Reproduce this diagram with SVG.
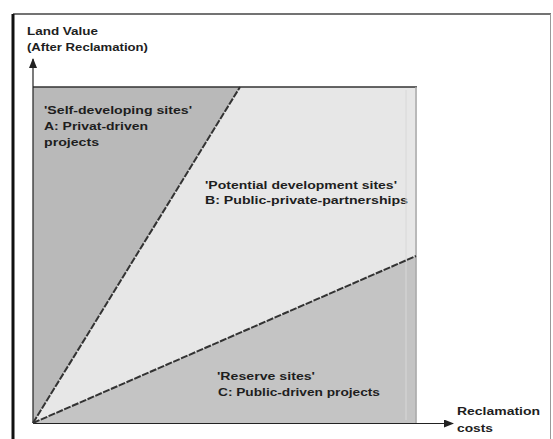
<svg xmlns="http://www.w3.org/2000/svg" width="553" height="439" viewBox="0 0 553 439">
<style>
text{font-family:"Liberation Sans",Arial,sans-serif;font-weight:bold;font-size:11px;fill:#1e1e1e}
.div{stroke:#333;stroke-width:2;fill:none;stroke-dasharray:7 1.5}
.axis{stroke:#222;stroke-width:1.2;fill:none}
</style>
<defs>
<marker id="arr" markerWidth="10" markerHeight="8" refX="9" refY="4" orient="auto" markerUnits="userSpaceOnUse">
<path d="M0,0 L10,4 L0,8 Z" fill="#222"/>
</marker>
</defs>
<rect width="553" height="439" fill="#fff"/>
<g id="frame">
<line x1="13" y1="14" x2="551" y2="14" stroke="#444" stroke-width="1.5"/>
<line x1="13" y1="14" x2="13" y2="439" stroke="#111" stroke-width="3"/>
<line x1="550.5" y1="14" x2="550.5" y2="439" stroke="#999" stroke-width="1"/>
</g>
<g id="region-B">
<rect x="33" y="87" width="384" height="336" fill="#e7e7e7"/>
<text x="205" y="189" textLength="192" lengthAdjust="spacingAndGlyphs">'Potential development sites'</text>
<text x="205" y="204" textLength="203" lengthAdjust="spacingAndGlyphs">B: Public-private-partnerships</text>
</g>
<g id="region-A">
<polygon points="33,87 240,87 33,423" fill="#b9b9b9"/>
<text x="44" y="114" textLength="148" lengthAdjust="spacingAndGlyphs">'Self-developing sites'</text>
<text x="44" y="130" textLength="104" lengthAdjust="spacingAndGlyphs">A: Privat-driven</text>
<text x="44" y="146" textLength="55" lengthAdjust="spacingAndGlyphs">projects</text>
</g>
<g id="region-C">
<polygon points="33,423 416,256 416,423" fill="#c4c4c4"/>
<text x="217" y="380" textLength="98" lengthAdjust="spacingAndGlyphs">'Reserve sites'</text>
<text x="218" y="396" textLength="162" lengthAdjust="spacingAndGlyphs">C: Public-driven projects</text>
</g>
<g id="rect-border">
<line x1="33" y1="87" x2="417" y2="87" stroke="#333" stroke-width="1.5"/>
<line x1="416" y1="87" x2="416" y2="423" stroke="#aaa" stroke-width="1.5"/>
<line x1="406" y1="90" x2="406" y2="420" stroke="#d8d8d8" stroke-width="1"/>
</g>
<g id="y-label">
<text x="27" y="35" textLength="71" lengthAdjust="spacingAndGlyphs">Land Value</text>
<text x="27" y="51" textLength="121" lengthAdjust="spacingAndGlyphs">(After Reclamation)</text>
</g>
<g id="x-label">
<text x="457" y="415" textLength="83" lengthAdjust="spacingAndGlyphs">Reclamation</text>
<text x="457" y="432" textLength="36" lengthAdjust="spacingAndGlyphs">costs</text>
</g>
<g id="connectors">
<line class="axis" x1="33" y1="423" x2="33" y2="59" marker-end="url(#arr)"/>
<line class="axis" x1="33" y1="423.5" x2="453" y2="423.5" stroke="#888" marker-end="url(#arr)"/>
<line class="div" x1="33" y1="423" x2="240" y2="87"/>
<line class="div" x1="33" y1="423" x2="416" y2="256"/>
</g>
</svg>
